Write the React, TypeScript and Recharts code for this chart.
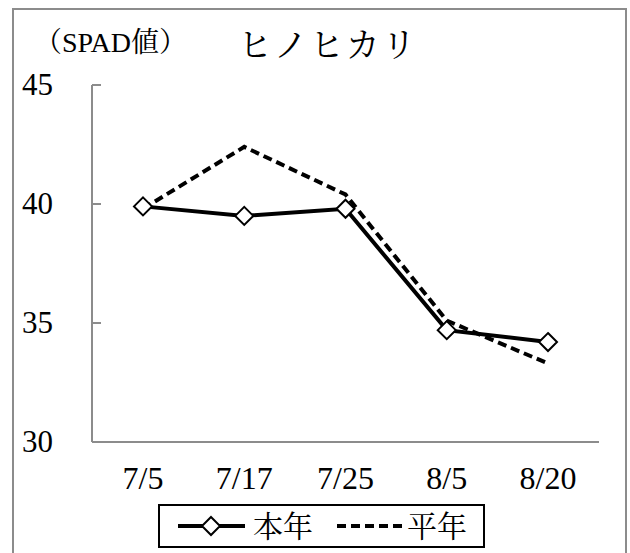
import React from 'react';
import { LineChart, Line, XAxis, YAxis, Legend, Customized } from 'recharts';

const categories = ['7/5', '7/17', '7/25', '8/5', '8/20'];
const honnen = [39.9, 39.5, 39.8, 34.7, 34.2];
const heinen = [39.8, 42.4, 40.4, 35.1, 33.3];
const yTicks = [30, 35, 40, 45];

const data = categories.map((c, i) => ({ date: c, honnen: honnen[i], heinen: heinen[i] }));

const FONT = "'Liberation Serif', 'Times New Roman', 'Noto Serif CJK JP', 'Noto Sans CJK JP', serif";

const Diamond = (props: any) => {
  const { cx, cy } = props;
  if (cx == null || cy == null) return null;
  const r = 9;
  return (
    <polygon
      points={`${cx},${cy - r} ${cx + r},${cy} ${cx},${cy + r} ${cx - r},${cy}`}
      fill="#fff"
      stroke="#000"
      strokeWidth={2}
    />
  );
};

const YTick = (props: any) => {
  const { x, y, payload } = props;
  return (
    <g>
      <line x1={x} x2={x + 9} y1={y} y2={y} stroke="#8c8c8c" strokeWidth={2} />
      <text x={x - 39} y={y + 10} textAnchor="end" fontSize={31} fontFamily={FONT} fill="#000">
        {payload.value}
      </text>
    </g>
  );
};

const XTick = (props: any) => {
  const { x, y, payload } = props;
  return (
    <text x={x} y={y + 47} textAnchor="middle" fontSize={32} fontFamily={FONT} fill="#000">
      {payload.value}
    </text>
  );
};

const Decor = () => (
  <g>
    <rect x={13} y={9} width={613} height={570} fill="none" stroke="#8c8c8c" strokeWidth={2} />
    <text x={34} y={52} fontSize={28} fontFamily={FONT} fill="#000">（SPAD値）</text>
    <text x={238} y={57} fontSize={34} letterSpacing={2} fontFamily={FONT} fill="#000">ヒノヒカリ</text>
  </g>
);

const renderLegend = (props: any) => {
  const payload = props.payload || [];
  const find = (k: string, d: string) => {
    const e = payload.find((p: any) => p.dataKey === k);
    return e ? e.value : d;
  };
  const p0 = find('honnen', '本年');
  const p1 = find('heinen', '平年');
  return (
    <svg width={323} height={40} style={{ display: 'block' }}>
      <line x1={18} x2={85} y1={20} y2={20} stroke="#000" strokeWidth={4} />
      <polygon points="51,11 60,20 51,29 42,20" fill="#fff" stroke="#000" strokeWidth={2} />
      <text x={93} y={20} dominantBaseline="central" fontSize={30} fontFamily={FONT} fill="#000">{p0}</text>
      <line x1={177} x2={245} y1={20} y2={20} stroke="#000" strokeWidth={4} strokeDasharray="9 5" />
      <text x={247} y={20} dominantBaseline="central" fontSize={30} fontFamily={FONT} fill="#000">{p1}</text>
    </svg>
  );
};

export default function App() {
  return (
    <div style={{ position: 'absolute', left: 0, top: 0, background: '#fff' }}>
      <LineChart
        width={630}
        height={553}
        data={data}
        margin={{ top: 85, right: 31, left: 0, bottom: 0 }}
        style={{ fontFamily: FONT }}
      >
        <Customized component={Decor} />
        <XAxis
          dataKey="date"
          height={67}
          padding={{ left: 51, right: 51 }}
          tickLine={false}
          tickSize={0}
          tickMargin={0}
          axisLine={{ stroke: '#8c8c8c', strokeWidth: 2 }}
          tick={<XTick />}
          interval={0}
        />
        <YAxis
          width={92}
          domain={[30, 45]}
          ticks={yTicks}
          type="number"
          tickLine={false}
          tickSize={0}
          tickMargin={0}
          axisLine={{ stroke: '#8c8c8c', strokeWidth: 2 }}
          tick={<YTick />}
          interval={0}
        />
        <Legend
          verticalAlign="bottom"
          height={44}
          content={renderLegend}
          wrapperStyle={{
            left: 158,
            top: 504,
            width: 327,
            height: 44,
            border: '2px solid #000',
            boxSizing: 'border-box',
            background: '#fff',
          }}
        />
        <Line
          dataKey="honnen"
          name="本年"
          stroke="#000"
          strokeWidth={4}
          dot={<Diamond />}
          activeDot={false}
          isAnimationActive={false}
        />
        <Line
          dataKey="heinen"
          name="平年"
          stroke="#000"
          strokeWidth={4}
          strokeDasharray="9 5"
          dot={false}
          activeDot={false}
          isAnimationActive={false}
        />
      </LineChart>
    </div>
  );
}
